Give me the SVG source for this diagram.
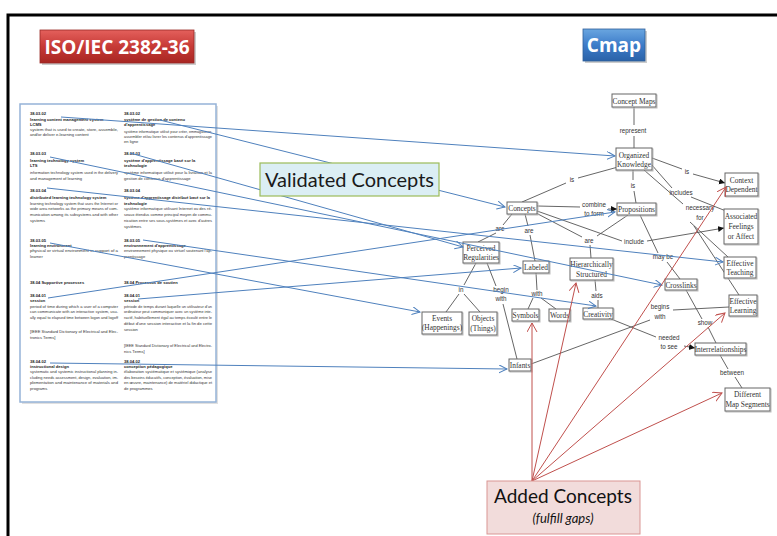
<svg xmlns="http://www.w3.org/2000/svg" width="777" height="536" viewBox="0 0 777 536">
<defs>
<linearGradient id="gRed" x1="0" y1="0" x2="0" y2="1"><stop offset="0" stop-color="#e4605c"/><stop offset="0.5" stop-color="#c63a36"/><stop offset="1" stop-color="#a82622"/></linearGradient>
<linearGradient id="gBlue" x1="0" y1="0" x2="0" y2="1"><stop offset="0" stop-color="#6aa6e0"/><stop offset="0.5" stop-color="#3d7cc9"/><stop offset="1" stop-color="#2a62a8"/></linearGradient>
<marker id="mBlue" markerUnits="userSpaceOnUse" markerWidth="10" markerHeight="10" refX="8" refY="4" orient="auto"><path d="M0,0 L8,4 L0,8" fill="none" stroke="#4f81bd" stroke-width="1"/></marker>
<marker id="mRed" markerUnits="userSpaceOnUse" markerWidth="12" markerHeight="12" refX="9" refY="5" orient="auto"><path d="M0,0 L9,5 L0,10" fill="none" stroke="#c0504d" stroke-width="1"/></marker>
<marker id="mBlk" markerUnits="userSpaceOnUse" markerWidth="8" markerHeight="8" refX="6" refY="3" orient="auto"><path d="M0,0 L6,3 L0,6 Z" fill="#111"/></marker>
</defs>
<style>
.frame{fill:none;stroke:#000;stroke-width:3}
.title{font-family:"Open Sans","Liberation Sans",sans-serif;font-weight:bold;font-size:19px;fill:#fff;text-anchor:middle}
.doc{font-family:"Liberation Sans",sans-serif;font-size:4.1px;fill:#333}
.docb{font-family:"Liberation Sans",sans-serif;font-size:4.1px;fill:#222;font-weight:bold}
.nbox{fill:#fff;stroke:#666;stroke-width:1}
.nsh{fill:none;stroke:#bbb;stroke-width:1}
.nt{font-family:"Liberation Serif",serif;font-size:7.4px;fill:#333;text-anchor:middle}
.lt{font-family:"Liberation Sans",sans-serif;font-size:6.3px;fill:#333;text-anchor:middle}
.ln{stroke:#555;stroke-width:0.9;fill:none}
.la{stroke:#555;stroke-width:0.9;fill:none;marker-end:url(#mBlk)}
.blue{stroke:#4f81bd;stroke-width:1;fill:none;marker-end:url(#mBlue)}
.red{stroke:#c0504d;stroke-width:1;fill:none;marker-end:url(#mRed)}
</style>
<rect x="0" y="0" width="777" height="536" fill="#fff"/>
<path class="frame" d="M8,536 L8,15 L777,15"/>

<g id="iso">
<rect x="42" y="32" width="154" height="33" fill="#999" opacity="0.5"/>
<rect x="40" y="30" width="154" height="33" fill="url(#gRed)" stroke="#9a2a27" stroke-width="0.8"/>
<text class="title" x="117" y="54">ISO/IEC 2382-36</text>
</g>
<g id="cmap">
<rect x="585" y="31" width="62" height="32" fill="#999" opacity="0.5"/>
<rect x="583" y="29" width="62" height="32" fill="url(#gBlue)" stroke="#2f5f9a" stroke-width="0.8"/>
<text class="title" x="614" y="52">Cmap</text>
</g>

<g id="document">
<rect x="22" y="106" width="196" height="298" fill="#ccc" opacity="0.6"/>
<rect x="20" y="104" width="196" height="298" fill="#fff" stroke="#95b3d7" stroke-width="1.5"/>
<text class="docb" x="30" y="115">38.03.02</text>
<text class="docb" x="30" y="121">learning content management system</text>
<text class="docb" x="30" y="125.5">LCMS</text>
<text class="doc" x="30" y="131" textLength="88" lengthAdjust="spacingAndGlyphs">system that is used to create, store, assemble,</text>
<text class="doc" x="30" y="136">and/or deliver e-learning content</text>
<text class="docb" x="30" y="155">38.03.03</text>
<text class="docb" x="30" y="161.5">learning technology system</text>
<text class="docb" x="30" y="166.5">LTS</text>
<text class="doc" x="30" y="174" textLength="88" lengthAdjust="spacingAndGlyphs">information technology system used in the delivery</text>
<text class="doc" x="30" y="180">and management of learning</text>
<text class="docb" x="30" y="191.5">38.03.04</text>
<text class="docb" x="30" y="198.5">distributed learning technology system</text>
<text class="doc" x="30" y="204.5" textLength="88" lengthAdjust="spacingAndGlyphs">learning technology system that uses the Internet or</text>
<text class="doc" x="30" y="210" textLength="88" lengthAdjust="spacingAndGlyphs">wide area networks as the primary means of com-</text>
<text class="doc" x="30" y="216" textLength="88" lengthAdjust="spacingAndGlyphs">munication among its subsystems and with other</text>
<text class="doc" x="30" y="222">systems</text>
<text class="docb" x="30" y="241.5">38.03.05</text>
<text class="docb" x="30" y="246.5">learning environment</text>
<text class="doc" x="30" y="252" textLength="88" lengthAdjust="spacingAndGlyphs">physical or virtual environment in support of a</text>
<text class="doc" x="30" y="258">learner</text>
<text class="docb" x="30" y="284">38.04  Supportive processes</text>
<text class="docb" x="30" y="297">38.04.01</text>
<text class="docb" x="30" y="302">session</text>
<text class="doc" x="30" y="307.5" textLength="88" lengthAdjust="spacingAndGlyphs">period of time during which a user of a computer</text>
<text class="doc" x="30" y="313" textLength="88" lengthAdjust="spacingAndGlyphs">can communicate with an interactive system, usu-</text>
<text class="doc" x="30" y="318.5" textLength="88" lengthAdjust="spacingAndGlyphs">ally equal to elapsed time between logon and logoff</text>
<text class="doc" x="30" y="333" textLength="88" lengthAdjust="spacingAndGlyphs">[IEEE Standard Dictionary of Electrical and Elec-</text>
<text class="doc" x="30" y="338.5">tronics Terms]</text>
<text class="docb" x="30" y="363">38.04.02</text>
<text class="docb" x="30" y="367.5">instructional design</text>
<text class="doc" x="30" y="373" textLength="88" lengthAdjust="spacingAndGlyphs">systematic and systemic instructional planning in-</text>
<text class="doc" x="30" y="378.5" textLength="88" lengthAdjust="spacingAndGlyphs">cluding needs assessment, design, evaluation, im-</text>
<text class="doc" x="30" y="384" textLength="88" lengthAdjust="spacingAndGlyphs">plementation and maintenance of materials and</text>
<text class="doc" x="30" y="390">programs</text>

<text class="docb" x="124" y="115">38.03.02</text>
<text class="docb" x="124" y="121">système de gestion de contenu</text>
<text class="docb" x="124" y="126">d'apprentissage</text>
<text class="doc" x="124" y="133" textLength="88" lengthAdjust="spacingAndGlyphs">système informatique utilisé pour créer, emmagasiner,</text>
<text class="doc" x="124" y="138" textLength="88" lengthAdjust="spacingAndGlyphs">assembler et/ou livrer les contenus d'apprentissage</text>
<text class="doc" x="124" y="143">en ligne</text>
<text class="docb" x="124" y="155">38.03.03</text>
<text class="docb" x="124" y="161.5">système d'apprentissage basé sur la</text>
<text class="docb" x="124" y="167">technologie</text>
<text class="doc" x="124" y="174" textLength="88" lengthAdjust="spacingAndGlyphs">système informatique utilisé pour la livraison et la</text>
<text class="doc" x="124" y="180">gestion de contenus d'apprentissage</text>
<text class="docb" x="124" y="191.5">38.03.04</text>
<text class="docb" x="124" y="198.5" textLength="86" lengthAdjust="spacingAndGlyphs">système d'apprentissage distribué basé sur la</text>
<text class="docb" x="124" y="204.5">technologie</text>
<text class="doc" x="124" y="210" textLength="88" lengthAdjust="spacingAndGlyphs">système informatique utilisant Internet ou des ré-</text>
<text class="doc" x="124" y="216" textLength="88" lengthAdjust="spacingAndGlyphs">seaux étendus comme principal moyen de commu-</text>
<text class="doc" x="124" y="222" textLength="88" lengthAdjust="spacingAndGlyphs">nication entre ses sous-systèmes et avec d'autres</text>
<text class="doc" x="124" y="227.5">systèmes</text>
<text class="docb" x="124" y="241.5">38.03.05</text>
<text class="docb" x="124" y="246.5">environnement d'apprentissage</text>
<text class="doc" x="124" y="252" textLength="88" lengthAdjust="spacingAndGlyphs">environnement physique ou virtuel soutenant l'ap-</text>
<text class="doc" x="124" y="258">prentissage</text>
<text class="docb" x="124" y="284">38.04  Processus de soutien</text>
<text class="docb" x="124" y="297">38.04.01</text>
<text class="docb" x="124" y="302">session</text>
<text class="doc" x="124" y="307.5" textLength="88" lengthAdjust="spacingAndGlyphs">période de temps durant laquelle un utilisateur d'un</text>
<text class="doc" x="124" y="313" textLength="88" lengthAdjust="spacingAndGlyphs">ordinateur peut communiquer avec un système inte-</text>
<text class="doc" x="124" y="319" textLength="88" lengthAdjust="spacingAndGlyphs">ractif, habituellement égal au temps écoulé entre le</text>
<text class="doc" x="124" y="325" textLength="88" lengthAdjust="spacingAndGlyphs">début d'une session interactive et la fin de cette</text>
<text class="doc" x="124" y="331">session</text>
<text class="doc" x="124" y="347" textLength="88" lengthAdjust="spacingAndGlyphs">[IEEE Standard Dictionary of Electrical and Electro-</text>
<text class="doc" x="124" y="352.5">nics Terms]</text>
<text class="docb" x="124" y="363">38.04.02</text>
<text class="docb" x="124" y="367.5">conception pédagogique</text>
<text class="doc" x="124" y="373" textLength="88" lengthAdjust="spacingAndGlyphs">élaboration systématique et systémique (analyse</text>
<text class="doc" x="124" y="378.5" textLength="88" lengthAdjust="spacingAndGlyphs">des besoins éducatifs, conception, évaluation, mise</text>
<text class="doc" x="124" y="384" textLength="88" lengthAdjust="spacingAndGlyphs">en œuvre, maintenance) de matériel didactique et</text>
<text class="doc" x="124" y="390">de programmes</text>
</g>

<g id="cmap-links">
<path class="ln" d="M634,107 L634,125 M634,136 L634,148"/>
<path class="ln" d="M618,167 L578,178 M566,183 L522,202"/>
<path class="ln" d="M633,170 L633,180 M634,191 L636,203"/>
<path class="ln" d="M652,158 L682,169"/>
<path class="la" d="M693,174 L725,183"/>
<path class="ln" d="M651,164 L672,188 M691,197 L726,211"/>
<path class="ln" d="M644,170 L683,204 M690,222 L728,257 M694,226 L739,295"/>
<path class="ln" d="M537,206 L580,207"/>
<path class="la" d="M608,209 L617,209"/>
<path class="ln" d="M512,214 L503,225 M496,233 L478,242"/>
<path class="ln" d="M525,214 L528,226 M530,235 L535,261"/>
<path class="ln" d="M536,213 L582,237 M628,215 L597,236 M590,245 L591,258"/>
<path class="ln" d="M537,211 L622,241"/>
<path class="la" d="M647,241 L724,228"/>
<path class="ln" d="M640,215 L658,253 M667,262 L680,279"/>
<path class="ln" d="M476,263 L464,285 M459,294 L446,312 M464,294 L480,312"/>
<path class="ln" d="M487,263 L496,286 M503,304 L517,359"/>
<path class="ln" d="M536,273 L537,290 M533,298 L528,309 M541,298 L556,309"/>
<path class="ln" d="M595,280 L596,291 M598,300 L598,308"/>
<path class="ln" d="M686,290 L702,319 M708,327 L716,343"/>
<path class="ln" d="M531,364 L650,320 M673,310 L729,307"/>
<path class="ln" d="M611,319 L656,337"/>
<path class="la" d="M684,346 L695,348"/>
<path class="ln" d="M720,355 L728,369 M735,377 L742,388"/>
</g>

<g id="link-labels">
<text class="lt" x="633" y="133">represent</text>
<text class="lt" x="572" y="182">is</text>
<text class="lt" x="633" y="188">is</text>
<text class="lt" x="687" y="174">is</text>
<text class="lt" x="681" y="195">includes</text>
<text class="lt" x="700" y="210">necessary</text>
<text class="lt" x="700" y="220">for</text>
<text class="lt" x="594" y="207">combine</text>
<text class="lt" x="594" y="216">to form</text>
<text class="lt" x="500" y="231">are</text>
<text class="lt" x="529" y="233">are</text>
<text class="lt" x="589" y="243">are</text>
<text class="lt" x="634" y="244">include</text>
<text class="lt" x="663" y="259">may be</text>
<text class="lt" x="461" y="292">in</text>
<text class="lt" x="501" y="292">begin</text>
<text class="lt" x="501" y="301">with</text>
<text class="lt" x="537" y="296">with</text>
<text class="lt" x="597" y="298">aids</text>
<text class="lt" x="660" y="309">begins</text>
<text class="lt" x="660" y="319">with</text>
<text class="lt" x="705" y="325">show</text>
<text class="lt" x="669" y="340">needed</text>
<text class="lt" x="669" y="349">to see</text>
<text class="lt" x="732" y="375">between</text>
</g>

<g id="n-concept-maps"><rect class="nsh" x="613" y="95" width="44" height="13"/><rect class="nbox" x="612" y="94" width="44" height="13"/><text class="nt" x="634" y="103.5">Concept Maps</text></g>
<g id="n-organized-knowledge"><rect class="nsh" x="617" y="149" width="36" height="22"/><rect class="nbox" x="616" y="148" width="36" height="22"/><text class="nt" x="634" y="157.5">Organized</text><text class="nt" x="634" y="166.5">Knowledge</text></g>
<g id="n-context-dependent"><rect class="nsh" x="726" y="174" width="33" height="23"/><rect class="nbox" x="725" y="173" width="33" height="23"/><text class="nt" x="741.5" y="182.5">Context</text><text class="nt" x="741.5" y="192">Dependent</text></g>
<g id="n-associated"><rect class="nsh" x="725" y="210" width="34" height="35"/><rect class="nbox" x="724" y="209" width="34" height="35"/><text class="nt" x="741" y="218.5">Associated</text><text class="nt" x="741" y="228.5">Feelings</text><text class="nt" x="741" y="238.5">or Affect</text></g>
<g id="n-concepts"><rect class="nsh" x="508" y="203" width="30" height="12"/><rect class="nbox" x="507" y="202" width="30" height="12"/><text class="nt" x="522" y="211">Concepts</text></g>
<g id="n-propositions"><rect class="nsh" x="618" y="204" width="39" height="12"/><rect class="nbox" x="617" y="203" width="39" height="12"/><text class="nt" x="636.5" y="212">Propositions</text></g>
<g id="n-effective-teaching"><rect class="nsh" x="725" y="258" width="32" height="21"/><rect class="nbox" x="724" y="257" width="32" height="21"/><text class="nt" x="740" y="265.5">Effective</text><text class="nt" x="740" y="275">Teaching</text></g>
<g id="n-perceived"><rect class="nsh" x="464" y="243" width="36" height="21"/><rect class="nbox" x="463" y="242" width="36" height="21"/><text class="nt" x="481" y="250.5">Perceived</text><text class="nt" x="481" y="260">Regularities</text></g>
<g id="n-labeled"><rect class="nsh" x="524" y="262" width="26" height="12"/><rect class="nbox" x="523" y="261" width="26" height="12"/><text class="nt" x="536" y="270">Labeled</text></g>
<g id="n-hierarchically"><rect class="nsh" x="571" y="259" width="43" height="22"/><rect class="nbox" x="570" y="258" width="43" height="22"/><text class="nt" x="591.5" y="267">Hierarchically</text><text class="nt" x="591.5" y="276.5">Structured</text></g>
<g id="n-crosslinks"><rect class="nsh" x="666" y="280" width="32" height="11"/><rect class="nbox" x="665" y="279" width="32" height="11"/><text class="nt" x="681" y="287.5">Crosslinks</text></g>
<g id="n-effective-learning"><rect class="nsh" x="730" y="296" width="28" height="21"/><rect class="nbox" x="729" y="295" width="28" height="21"/><text class="nt" x="743" y="303.5">Effective</text><text class="nt" x="743" y="313">Learning</text></g>
<g id="n-symbols"><rect class="nsh" x="513" y="310" width="27" height="12"/><rect class="nbox" x="512" y="309" width="27" height="12"/><text class="nt" x="525.5" y="318">Symbols</text></g>
<g id="n-words"><rect class="nsh" x="550" y="310" width="21" height="12"/><rect class="nbox" x="549" y="309" width="21" height="12"/><text class="nt" x="559.5" y="318">Words</text></g>
<g id="n-creativity"><rect class="nsh" x="584" y="309" width="30" height="11"/><rect class="nbox" x="583" y="308" width="30" height="11"/><text class="nt" x="598" y="316.5">Creativity</text></g>
<g id="n-events"><rect class="nsh" x="423" y="313" width="40" height="22"/><rect class="nbox" x="422" y="312" width="40" height="22"/><text class="nt" x="442" y="320.5">Events</text><text class="nt" x="442" y="330">(Happenings)</text></g>
<g id="n-objects"><rect class="nsh" x="470" y="313" width="28" height="23"/><rect class="nbox" x="469" y="312" width="28" height="23"/><text class="nt" x="483" y="320.5">Objects</text><text class="nt" x="483" y="330.5">(Things)</text></g>
<g id="n-infants"><rect class="nsh" x="510" y="360" width="22" height="12"/><rect class="nbox" x="509" y="359" width="22" height="12"/><text class="nt" x="520" y="368">Infants</text></g>
<g id="n-interrelationships"><rect class="nsh" x="696" y="344" width="51" height="12"/><rect class="nbox" x="695" y="343" width="51" height="12"/><text class="nt" x="720.5" y="352">Interrelationships</text></g>
<g id="n-different"><rect class="nsh" x="726" y="389" width="45" height="23"/><rect class="nbox" x="725" y="388" width="45" height="23"/><text class="nt" x="747.5" y="397">Different</text><text class="nt" x="747.5" y="407">Map Segments</text></g>

<g id="validated-links">
<path class="blue" d="M61,117 L615,156"/>
<path class="blue" d="M160,120 L505,207"/>
<path class="blue" d="M50,157 L662,285"/>
<path class="blue" d="M130,153 L463,247"/>
<path class="blue" d="M47,188 L723,262"/>
<path class="blue" d="M50,243 L420,312"/>
<path class="blue" d="M143,240 L596,306"/>
<path class="blue" d="M48,298 L615,212"/>
<path class="blue" d="M138,299 L521,268"/>
<path class="blue" d="M50,363 L507,369"/>
</g>

<g id="validated-concepts">
<rect x="260" y="163" width="179" height="33" fill="#dbeef4" stroke="#9bbb59" stroke-width="1.2"/>
<text x="349.5" y="187" font-family="Lato,'Open Sans',sans-serif" font-size="20" fill="#1a1a1a" text-anchor="middle">Validated Concepts</text>
</g>

<g id="added-links">
<path class="red" d="M532,481 L532,323"/>
<path class="red" d="M532,481 L576,283"/>
<path class="red" d="M532,481 L726,187"/>
<path class="red" d="M532,481 L725,313"/>
<path class="red" d="M532,481 L722,393"/>
</g>

<g id="added-concepts">
<rect x="487" y="481" width="153" height="53" fill="#f2dcdb" stroke="#d99694" stroke-width="1"/>
<text x="563" y="503" font-family="Lato,'Open Sans',sans-serif" font-size="19" fill="#111" text-anchor="middle">Added Concepts</text>
<text x="563" y="523" font-family="Lato,'Open Sans',sans-serif" font-size="13" font-style="italic" fill="#111" text-anchor="middle">(fulfill gaps)</text>
</g>
</svg>
